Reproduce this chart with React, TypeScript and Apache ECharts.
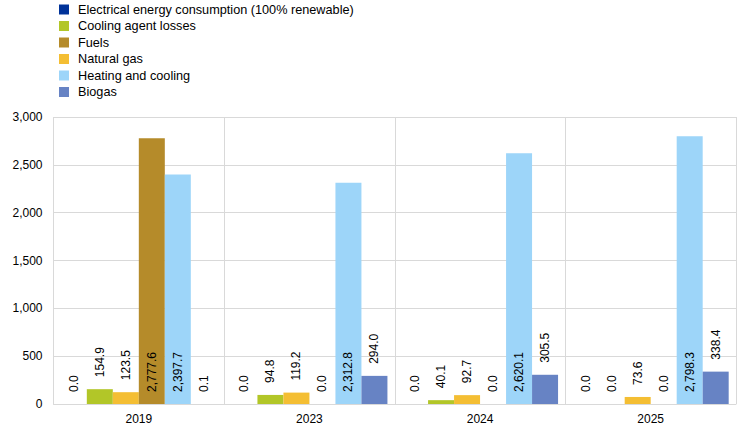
import React, { useEffect, useRef } from "react";
import * as echarts from "echarts";

const categories = ["2019", "2023", "2024", "2025"];
const seriesNames = [
  "Electrical energy consumption (100% renewable)",
  "Cooling agent losses",
  "Natural gas",
  "Fuels",
  "Heating and cooling",
  "Biogas",
];
const legendOrder = [
  "Electrical energy consumption (100% renewable)",
  "Cooling agent losses",
  "Fuels",
  "Natural gas",
  "Heating and cooling",
  "Biogas",
];
const electrical = [0.0, 0.0, 0.0, 0.0];
const coolingLosses = [154.9, 94.8, 40.1, 0.0];
const naturalGas = [123.5, 119.2, 92.7, 73.6];
const fuels = [2777.6, 0.0, 0.0, 0.0];
const heatingCooling = [2397.7, 2312.8, 2620.1, 2798.3];
const biogas = [0.1, 294.0, 305.5, 338.4];
const colors = ["#003299", "#b2c628", "#f4be33", "#b58b2a", "#9dd5f9", "#6783c4"];

const fmt = (v: number) =>
  v.toLocaleString("en-US", { minimumFractionDigits: 1, maximumFractionDigits: 1 });

const FONT = "'Liberation Sans', Arial, sans-serif";

export default function App() {
  const ref = useRef<HTMLDivElement>(null);
  useEffect(() => {
    if (!ref.current) return;
    const chart = echarts.init(ref.current, undefined, { renderer: "svg" });
    const allData = [electrical, coolingLosses, naturalGas, fuels, heatingCooling, biogas];
    const series = allData.map((arr, i) => ({
      name: seriesNames[i],
      type: "bar",
      barWidth: 26,
      barGap: "0%",
      itemStyle: { color: colors[i] },
      data: arr.map((v) => ({
        value: v,
        label: {
          show: true,
          position: v >= 1000 ? "insideBottom" : "top",
          distance: 12,
          rotate: 90,
          align: "left",
          verticalAlign: "middle",
          formatter: () => fmt(v),
          color: "#000",
          fontSize: 12,
          fontFamily: FONT,
        },
      })),
    }));
    chart.setOption({
      animation: false,
      textStyle: { fontFamily: FONT },
      legend: {
        orient: "vertical",
        left: 54,
        top: -2,
        itemWidth: 10,
        itemHeight: 10,
        itemGap: 3.5,
        icon: "rect",
        data: legendOrder,
        textStyle: {
          fontSize: 12.7,
          lineHeight: 13,
          color: "#000",
          fontFamily: FONT,
          padding: [0, 0, 0, 4],
        },
      },
      grid: { left: 53.5, right: 11, top: 117, bottom: 28, containLabel: false },
      xAxis: {
        type: "category",
        data: categories,
        axisLine: { show: true, lineStyle: { color: "#d9d9d9" } },
        axisTick: { show: false },
        splitLine: { show: true, lineStyle: { color: "#d9d9d9" } },
        axisLabel: { color: "#000", fontSize: 12, margin: 9, fontFamily: FONT },
      },
      yAxis: {
        type: "value",
        min: 0,
        max: 3000,
        interval: 500,
        axisLine: { show: false },
        axisTick: { show: false },
        splitLine: { show: true, lineStyle: { color: "#d9d9d9" } },
        axisLabel: {
          color: "#000",
          fontSize: 12,
          margin: 11,
          fontFamily: FONT,
          formatter: (v: number) => v.toLocaleString("en-US"),
        },
      },
      series,
    });
    return () => chart.dispose();
  }, []);
  return <div ref={ref} style={{ width: 747, height: 432, position: "absolute", left: 0, top: 0 }} />;
}
